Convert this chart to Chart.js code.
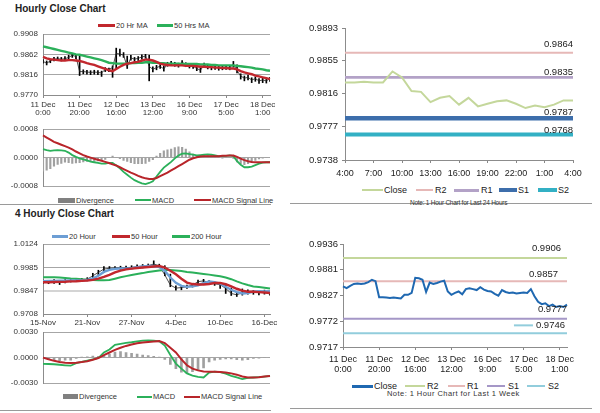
<!DOCTYPE html>
<html>
<head>
<meta charset="utf-8">
<title>Hourly Close Chart</title>
<script src="https://cdn.jsdelivr.net/npm/chart.js@4.4.1/dist/chart.umd.min.js"></script>
<style>
    body { margin: 0; width: 600px; height: 413px; position: relative; overflow: hidden; background: #fff;
           font-family: "Liberation Sans", Arial, sans-serif; color: #222; }
    canvas { position: absolute; }
    .ds-title { position: absolute; left: 15px; font-size: 10px; font-weight: bold; line-height: 12px; }
    .ds-sep { position: absolute; height: 1px; background: #9a9a9a; }
    .ds-key { position: absolute; }
    .ds-label { position: absolute; white-space: nowrap; color: #333; }
    .ds-small { font-size: 7.5px; line-height: 9px; }
    .ds-big { font-size: 9px; line-height: 11px; color: #222; }
</style>
</head>
<body>
<div class="ds-title" style="top:3px">Hourly Close Chart</div>
<div class="ds-title" style="top:208px">4 Hourly Close Chart</div>

<div class="ds-sep" style="left:0;top:204px;width:271px"></div>
<div class="ds-sep" style="left:290px;top:203px;width:302px"></div>
<div class="ds-sep" style="left:0;top:410px;width:271px"></div>
<div class="ds-sep" style="left:290px;top:408px;width:302px"></div>

<!-- hourly legend -->
<div class="ds-key" style="left:98px;top:23.5px;width:17px;height:3px;background:#c1272d"></div>
<div class="ds-label ds-small" style="left:116px;top:20.5px">20 Hr MA</div>
<div class="ds-key" style="left:157px;top:23.5px;width:16px;height:3px;background:#2bb05a"></div>
<div class="ds-label ds-small" style="left:174px;top:20.5px">50 Hrs MA</div>

<div class="ds-key" style="left:58px;top:197.5px;width:17px;height:5px;background:#808080"></div>
<div class="ds-label ds-small" style="left:76px;top:195.5px">Divergence</div>
<div class="ds-key" style="left:135px;top:199px;width:16px;height:2px;background:#2bb05a"></div>
<div class="ds-label ds-small" style="left:152px;top:195.5px">MACD</div>
<div class="ds-key" style="left:194px;top:199px;width:17px;height:2px;background:#b8252a"></div>
<div class="ds-label ds-small" style="left:212px;top:195.5px">MACD Signal Line</div>

<!-- 4 hourly legend -->
<div class="ds-key" style="left:52px;top:235px;width:16px;height:3px;background:#6d9ed4"></div>
<div class="ds-label ds-small" style="left:69px;top:232px">20 Hour</div>
<div class="ds-key" style="left:112px;top:235px;width:18px;height:3px;background:#c1272d"></div>
<div class="ds-label ds-small" style="left:131px;top:232px">50 Hour</div>
<div class="ds-key" style="left:172px;top:235px;width:18px;height:3px;background:#2bb05a"></div>
<div class="ds-label ds-small" style="left:191px;top:232px">200 Hour</div>

<div class="ds-key" style="left:63px;top:394px;width:15px;height:5px;background:#808080"></div>
<div class="ds-label ds-small" style="left:79px;top:392px">Divergence</div>
<div class="ds-key" style="left:137px;top:395.5px;width:15px;height:2px;background:#2bb05a"></div>
<div class="ds-label ds-small" style="left:153px;top:392px">MACD</div>
<div class="ds-key" style="left:184px;top:395.5px;width:16px;height:2px;background:#b8252a"></div>
<div class="ds-label ds-small" style="left:201px;top:392px">MACD Signal Line</div>

<!-- last 24 hours legend -->
<div class="ds-key" style="left:362px;top:189px;width:21px;height:2px;background:#c4d79b"></div>
<div class="ds-label ds-big" style="left:384px;top:184.5px">Close</div>
<div class="ds-key" style="left:416px;top:189px;width:17px;height:2px;background:#e6b8b7"></div>
<div class="ds-label ds-big" style="left:435px;top:184.5px">R2</div>
<div class="ds-key" style="left:454px;top:189px;width:25px;height:2.5px;background:#b3a2c7"></div>
<div class="ds-label ds-big" style="left:481px;top:184.5px">R1</div>
<div class="ds-key" style="left:499px;top:188px;width:18px;height:4px;background:#3d6eab"></div>
<div class="ds-label ds-big" style="left:518px;top:184.5px">S1</div>
<div class="ds-key" style="left:538px;top:188px;width:19px;height:4px;background:#33b0c4"></div>
<div class="ds-label ds-big" style="left:558px;top:184.5px">S2</div>
<div class="ds-label" style="left:410px;top:198.5px;font-size:6.5px;line-height:7px;letter-spacing:-0.25px">Note: 1 Hour Chart for Last 24 Hours</div>

<!-- last week legend -->
<div class="ds-key" style="left:352px;top:384.5px;width:21px;height:3px;background:#1f68b1"></div>
<div class="ds-label ds-big" style="left:374px;top:380.5px">Close</div>
<div class="ds-key" style="left:405px;top:385px;width:20px;height:2px;background:#c4d79b"></div>
<div class="ds-label ds-big" style="left:427px;top:380.5px">R2</div>
<div class="ds-key" style="left:448px;top:385px;width:17px;height:2px;background:#e6b8b7"></div>
<div class="ds-label ds-big" style="left:467px;top:380.5px">R1</div>
<div class="ds-key" style="left:487px;top:385px;width:18px;height:2px;background:#a597c7"></div>
<div class="ds-label ds-big" style="left:508px;top:380.5px">S1</div>
<div class="ds-key" style="left:527px;top:385px;width:18px;height:2px;background:#92cddc"></div>
<div class="ds-label ds-big" style="left:548px;top:380.5px">S2</div>
<div class="ds-label" style="left:387px;top:389px;font-size:7.5px;line-height:9px;letter-spacing:0.45px">Note: 1 Hour Chart for Last 1 Week</div>

<canvas id="hourly-price"></canvas>
<canvas id="hourly-macd"></canvas>
<canvas id="four-price"></canvas>
<canvas id="four-macd"></canvas>
<canvas id="day-levels"></canvas>
<canvas id="week-levels"></canvas>

<script>
// ---- Hourly chart for the last week (one value every 2 hours) ----
const weekTicks = [['11 Dec', '0:00'], ['11 Dec', '20:00'], ['12 Dec', '16:00'], ['13 Dec', '12:00'],
                   ['16 Dec', '9:00'], ['17 Dec', '5:00'], ['18 Dec', '1:00']];
const weekClose = [
    0.9846, 0.9842, 0.9847, 0.9851, 0.9852, 0.9851, 0.9852, 0.9855, 0.9860, 0.9857,
    0.9823, 0.9823, 0.9822, 0.9821, 0.9822, 0.9821, 0.9820, 0.9828, 0.9828, 0.9832,
    0.9864, 0.9863, 0.9860, 0.9834, 0.9854, 0.9851, 0.9853, 0.9856, 0.9858, 0.9835,
    0.9828, 0.9832, 0.9835, 0.9829, 0.9840, 0.9842, 0.9840, 0.9838, 0.9844, 0.9839,
    0.9836, 0.9835, 0.9830, 0.9826, 0.9838, 0.9834, 0.9832, 0.9833, 0.9831, 0.9832,
    0.9833, 0.9832, 0.9840, 0.9825, 0.9813, 0.9808, 0.9810, 0.9804, 0.9807, 0.9802,
    0.9804, 0.9802, 0.9807
];
const weekHigh = [
    0.9850, 0.9847, 0.9851, 0.9855, 0.9856, 0.9855, 0.9857, 0.9860, 0.9864, 0.9862,
    0.9858, 0.9827, 0.9826, 0.9825, 0.9826, 0.9825, 0.9824, 0.9832, 0.9831, 0.9836,
    0.9876, 0.9874, 0.9866, 0.9858, 0.9860, 0.9855, 0.9857, 0.9861, 0.9862, 0.9860,
    0.9834, 0.9837, 0.9839, 0.9836, 0.9844, 0.9846, 0.9844, 0.9842, 0.9848, 0.9843,
    0.9840, 0.9839, 0.9835, 0.9831, 0.9842, 0.9838, 0.9836, 0.9837, 0.9835, 0.9836,
    0.9837, 0.9836, 0.9846, 0.9838, 0.9818, 0.9813, 0.9815, 0.9809, 0.9811, 0.9807,
    0.9808, 0.9806, 0.9810
];
const weekLow = [
    0.9842, 0.9838, 0.9843, 0.9847, 0.9848, 0.9847, 0.9848, 0.9851, 0.9855, 0.9852,
    0.9814, 0.9818, 0.9817, 0.9816, 0.9817, 0.9816, 0.9812, 0.9823, 0.9823, 0.9810,
    0.9830, 0.9858, 0.9855, 0.9830, 0.9849, 0.9846, 0.9848, 0.9851, 0.9853, 0.9802,
    0.9822, 0.9827, 0.9830, 0.9824, 0.9835, 0.9838, 0.9835, 0.9833, 0.9839, 0.9834,
    0.9831, 0.9830, 0.9825, 0.9821, 0.9832, 0.9829, 0.9827, 0.9828, 0.9826, 0.9827,
    0.9828, 0.9827, 0.9833, 0.9820, 0.9806, 0.9802, 0.9804, 0.9798, 0.9801, 0.9796,
    0.9798, 0.9797, 0.9801
];
const weekMA20 = [
    0.9856, 0.9853, 0.9851, 0.9850, 0.9849, 0.9848, 0.9848, 0.9849, 0.9849, 0.9848,
    0.9847, 0.9845, 0.9842, 0.9840, 0.9838, 0.9835, 0.9832, 0.9829, 0.9826, 0.9824,
    0.9829, 0.9834, 0.9838, 0.9841, 0.9842, 0.9844, 0.9845, 0.9848, 0.9850, 0.9850,
    0.9848, 0.9845, 0.9841, 0.9839, 0.9838, 0.9837, 0.9837, 0.9837, 0.9837, 0.9836,
    0.9836, 0.9836, 0.9835, 0.9834, 0.9834, 0.9833, 0.9833, 0.9832, 0.9832, 0.9831,
    0.9831, 0.9830, 0.9830, 0.9828, 0.9824, 0.9821, 0.9819, 0.9817, 0.9814, 0.9812,
    0.9810, 0.9808, 0.9806
];
const weekMA50 = [
    0.9880, 0.9878, 0.9876, 0.9874, 0.9872, 0.9870, 0.9868, 0.9866, 0.9864, 0.9862,
    0.9861, 0.9859, 0.9857, 0.9855, 0.9853, 0.9851, 0.9849, 0.9846, 0.9843, 0.9842,
    0.9841, 0.9841, 0.9841, 0.9841, 0.9842, 0.9842, 0.9843, 0.9843, 0.9844, 0.9844,
    0.9843, 0.9843, 0.9842, 0.9842, 0.9841, 0.9841, 0.9841, 0.9841, 0.9840, 0.9840,
    0.9840, 0.9840, 0.9840, 0.9839, 0.9839, 0.9839, 0.9838, 0.9838, 0.9837, 0.9837,
    0.9837, 0.9837, 0.9837, 0.9836, 0.9835, 0.9834, 0.9833, 0.9832, 0.9830, 0.9829,
    0.9828, 0.9826, 0.9825
];
const weekMacd = [
    0.00024, 0.00021, 0.00019, 0.00020, 0.00021, 0.00020, 0.00019, 0.00014, 0.00007, 0.00002,
    -0.00002, -0.00005, -0.00008, -0.00011, -0.00013, -0.00015, -0.00017, -0.00017, -0.00015, -0.00015,
    -0.00022, -0.00030, -0.00040, -0.00048, -0.00056, -0.00063, -0.00068, -0.00072, -0.00074, -0.00071,
    -0.00066, -0.00053, -0.00040, -0.00028, -0.00020, -0.00012, -0.00002, 0.00006, 0.00011, 0.00012,
    0.00010, 0.00008, 0.00006, 0.00007, 0.00008, 0.00009, 0.00008, 0.00006, 0.00004, 0.00004,
    0.00005, 0.00006, 0.00004, -0.00010, -0.00020, -0.00027, -0.00027, -0.00025, -0.00021, -0.00017,
    -0.00014, -0.00013, -0.00013
];
const weekSignal = [
    0.00062, 0.00056, 0.00050, 0.00044, 0.00040, 0.00036, 0.00032, 0.00028, 0.00023, 0.00017,
    0.00012, 0.00007, 0.00003, 0.00000, -0.00003, -0.00006, -0.00009, -0.00012, -0.00015, -0.00019,
    -0.00022, -0.00027, -0.00032, -0.00037, -0.00042, -0.00046, -0.00051, -0.00055, -0.00058, -0.00060,
    -0.00060, -0.00057, -0.00052, -0.00047, -0.00042, -0.00036, -0.00030, -0.00024, -0.00018, -0.00012,
    -0.00006, -0.00002, 0.00001, 0.00003, 0.00004, 0.00004, 0.00004, 0.00004, 0.00004, 0.00005,
    0.00005, 0.00006, 0.00006, 0.00002, -0.00003, -0.00007, -0.00010, -0.00012, -0.00013, -0.00013,
    -0.00013, -0.00013, -0.00013
];
const weekDivergence = [
    -0.00038, -0.00035, -0.00031, -0.00024, -0.00019, -0.00016, -0.00013, -0.00014, -0.00016, -0.00015,
    -0.00014, -0.00012, -0.00011, -0.00011, -0.00010, -0.00009, -0.00008, -0.00005, 0.00000, 0.00004,
    0.00000, -0.00003, -0.00008, -0.00011, -0.00014, -0.00017, -0.00017, -0.00017, -0.00016, -0.00011,
    -0.00006, 0.00004, 0.00012, 0.00019, 0.00022, 0.00024, 0.00028, 0.00030, 0.00029, 0.00024,
    0.00016, 0.00010, 0.00005, 0.00004, 0.00004, 0.00005, 0.00004, 0.00002, 0.00000, -0.00001,
    0.00000, 0.00000, -0.00002, -0.00012, -0.00017, -0.00020, -0.00017, -0.00013, -0.00008, -0.00004,
    -0.00001, 0.00000, 0.00000
];
const weekPriceTicks = [0.9770, 0.9816, 0.9862, 0.9908];
const weekMacdTicks = [-0.0008, 0.0000, 0.0008];
const weekLevelTicks = [0.9717, 0.9772, 0.9827, 0.9881, 0.9936];
const weekLevels = { R2: 0.9906, R1: 0.9857, S1: 0.9777, S2: 0.9746 };

// ---- 4 hourly chart ----
const fourTicks = ['15-Nov', '21-Nov', '27-Nov', '4-Dec', '10-Dec', '16-Dec'];
const fourClose = [
    0.9900, 0.9898, 0.9901, 0.9895, 0.9903, 0.9908, 0.9910, 0.9912, 0.9915, 0.9935,
    0.9955, 0.9975, 0.9980, 0.9982, 0.9983, 0.9984, 0.9985, 0.9990, 0.9992, 0.9995,
    1.0005, 0.9995, 0.9940, 0.9880, 0.9862, 0.9865, 0.9870, 0.9880, 0.9900, 0.9905,
    0.9895, 0.9888, 0.9882, 0.9860, 0.9830, 0.9822, 0.9835, 0.9840, 0.9838, 0.9835,
    0.9840, 0.9832
];
const fourHigh = [
    0.9910, 0.9908, 0.9912, 0.9905, 0.9912, 0.9916, 0.9920, 0.9920, 0.9924, 0.9950,
    0.9968, 0.9990, 0.9990, 0.9990, 0.9992, 0.9993, 0.9995, 1.0000, 1.0002, 1.0005,
    1.0024, 1.0004, 0.9995, 0.9945, 0.9875, 0.9874, 0.9880, 0.9890, 0.9910, 0.9914,
    0.9906, 0.9898, 0.9892, 0.9885, 0.9862, 0.9835, 0.9857, 0.9852, 0.9848, 0.9846,
    0.9850, 0.9843
];
const fourLow = [
    0.9890, 0.9888, 0.9890, 0.9883, 0.9893, 0.9898, 0.9900, 0.9903, 0.9905, 0.9915,
    0.9935, 0.9955, 0.9970, 0.9972, 0.9973, 0.9975, 0.9976, 0.9980, 0.9982, 0.9985,
    0.9990, 0.9985, 0.9935, 0.9870, 0.9850, 0.9852, 0.9860, 0.9868, 0.9880, 0.9895,
    0.9885, 0.9878, 0.9860, 0.9830, 0.9818, 0.9812, 0.9820, 0.9826, 0.9825, 0.9822,
    0.9826, 0.9820
];
const fourMA20 = [
    0.9903, 0.9904, 0.9905, 0.9906, 0.9906, 0.9907, 0.9907, 0.9907, 0.9911, 0.9920,
    0.9935, 0.9958, 0.9970, 0.9976, 0.9978, 0.9979, 0.9980, 0.9986, 0.9990, 0.9994,
    0.9993, 0.9987, 0.9964, 0.9925, 0.9893, 0.9875, 0.9869, 0.9872, 0.9879, 0.9892,
    0.9901, 0.9897, 0.9888, 0.9870, 0.9852, 0.9838, 0.9830, 0.9833, 0.9841, 0.9843,
    0.9842, 0.9843
];
const fourMA50 = [
    0.9897, 0.9897, 0.9898, 0.9899, 0.9900, 0.9902, 0.9903, 0.9905, 0.9907, 0.9911,
    0.9918, 0.9928, 0.9940, 0.9955, 0.9966, 0.9973, 0.9978, 0.9981, 0.9984, 0.9987,
    0.9990, 0.9993, 0.9984, 0.9965, 0.9944, 0.9918, 0.9895, 0.9886, 0.9883, 0.9883,
    0.9886, 0.9892, 0.9893, 0.9885, 0.9872, 0.9858, 0.9847, 0.9840, 0.9840, 0.9838,
    0.9836, 0.9833
];
const fourMA200 = [
    0.9927, 0.9927, 0.9926, 0.9925, 0.9922, 0.9919, 0.9917, 0.9915, 0.9912, 0.9910,
    0.9909, 0.9909, 0.9910, 0.9918, 0.9926, 0.9933, 0.9940, 0.9946, 0.9951, 0.9957,
    0.9962, 0.9967, 0.9970, 0.9970, 0.9967, 0.9963, 0.9958, 0.9954, 0.9950, 0.9946,
    0.9942, 0.9937, 0.9932, 0.9925, 0.9915, 0.9902, 0.9890, 0.9880, 0.9872, 0.9868,
    0.9864, 0.9859
];
const fourMacd = [
    -0.00073, -0.00075, -0.00078, -0.00084, -0.00090, -0.00095, -0.00065, -0.00050, -0.00035, -0.00020,
    -0.00005, 0.00060, 0.00095, 0.00150, 0.00162, 0.00172, 0.00180, 0.00190, 0.00198, 0.00203,
    0.00200, 0.00190, 0.00140, 0.00030, -0.00070, -0.00130, -0.00185, -0.00210, -0.00225, -0.00233,
    -0.00175, -0.00165, -0.00170, -0.00188, -0.00215, -0.00233, -0.00252, -0.00238, -0.00233, -0.00228,
    -0.00222, -0.00215
];
const fourSignal = [
    0.00000, -0.00020, -0.00038, -0.00052, -0.00060, -0.00062, -0.00060, -0.00052, -0.00042, -0.00025,
    -0.00005, 0.00030, 0.00060, 0.00090, 0.00115, 0.00137, 0.00153, 0.00168, 0.00177, 0.00184,
    0.00190, 0.00193, 0.00170, 0.00115, 0.00060, -0.00020, -0.00090, -0.00130, -0.00150, -0.00164,
    -0.00165, -0.00165, -0.00168, -0.00175, -0.00185, -0.00200, -0.00222, -0.00233, -0.00233, -0.00230,
    -0.00222, -0.00215
];
const fourDivergence = [
    -0.00010, -0.00020, -0.00030, -0.00035, -0.00030, -0.00030, -0.00010, 0.00005, 0.00010, 0.00018,
    0.00015, 0.00020, 0.00040, 0.00065, 0.00070, 0.00060, 0.00050, 0.00040, 0.00030, 0.00025,
    0.00015, 0.00005, -0.00020, -0.00080, -0.00130, -0.00170, -0.00185, -0.00165, -0.00140, -0.00120,
    -0.00050, -0.00030, -0.00020, -0.00015, -0.00015, -0.00025, -0.00030, -0.00025, -0.00010, -0.00005,
    0.00000, 0.00000
];
const fourPriceTicks = [0.9708, 0.9847, 0.9985, 1.0124];
const fourMacdTicks = [-0.0030, 0.0000, 0.0030];

// ---- Hourly chart for the last 24 hours ----
const dayTicks = ['4:00', '7:00', '10:00', '13:00', '16:00', '19:00', '22:00', '1:00', '4:00'];
const dayClose = [
    0.9829, 0.9829, 0.9830, 0.9829, 0.9829, 0.9842, 0.9835, 0.9819, 0.9818, 0.9806,
    0.9811, 0.9813, 0.9803, 0.9811, 0.9801, 0.9804, 0.9807, 0.9808, 0.9804, 0.9799,
    0.9802, 0.9800, 0.9803, 0.9808, 0.9808
];
const dayLevelTicks = [0.9738, 0.9777, 0.9816, 0.9855, 0.9893];
const dayLevels = { R2: 0.9864, R1: 0.9835, S1: 0.9787, S2: 0.9768 };

Chart.defaults.font.family = '"Liberation Sans", Arial, sans-serif';
Chart.defaults.plugins.legend.display = false;
Chart.defaults.plugins.tooltip.enabled = false;

// only every step-th category carries a tick label
function spreadLabels(count, step, ticks) {
    return Array.from({ length: count }, (_, i) => (i % step === 0 && ticks[i / step]) ? ticks[i / step] : '');
}

function valueAxis(ticks, o) {
    return {
        type: 'linear',
        min: ticks[0],
        max: ticks[ticks.length - 1],
        afterBuildTicks: scale => { scale.ticks = ticks.map(v => ({ value: v })); },
        afterFit: scale => { scale.width = o.width; },
        ticks: { color: o.inside ? '#333' : '#222', font: { size: o.font }, padding: o.pad, callback: v => v.toFixed(4) },
        grid: o.inside
            ? { color: o.gridColor || '#a6a6a6', lineWidth: o.gridWidth || 1, drawTicks: false }
            : { drawOnChartArea: false, drawTicks: true, tickLength: 3, color: '#888' },
        border: { color: '#8c8c8c' }
    };
}

function categoryAxis(o) {
    return {
        type: 'category',
        display: o.display !== false,
        offset: false,
        afterFit: scale => { scale.height = o.height; },
        ticks: { autoSkip: false, maxRotation: 0, minRotation: 0, color: o.color || '#333',
                 font: { size: o.font, lineHeight: 1.1 }, padding: o.pad },
        grid: { offset: false, drawOnChartArea: false, drawTicks: true, tickLength: 3,
                color: c => (c.index % o.step === 0 ? '#888' : 'rgba(0,0,0,0)') },
        border: { color: '#8c8c8c' }
    };
}

function makeChart(id, box, config) {
    const canvas = document.getElementById(id);
    canvas.width = box.w;
    canvas.height = box.h;
    canvas.style.left = box.x + 'px';
    canvas.style.top = box.y + 'px';
    canvas.style.width = box.w + 'px';
    canvas.style.height = box.h + 'px';
    config.options = Object.assign({
        responsive: false,
        animation: false,
        layout: { padding: box.pad }
    }, config.options);
    return new Chart(canvas.getContext('2d'), config);
}

function lineSet(data, color, width, order) {
    return { type: 'line', data: data, borderColor: color, borderWidth: width, pointRadius: 0, tension: 0, order: order };
}

// value labels over the support / resistance lines
const levelLabels = {
    id: 'levelLabels',
    afterDatasetsDraw(chart, args, opts) {
        const ctx = chart.ctx;
        const area = chart.chartArea;
        const y = chart.scales.y;
        ctx.save();
        ctx.font = opts.font;
        ctx.fillStyle = '#222';
        ctx.textAlign = 'right';
        ctx.textBaseline = 'middle';
        opts.items.forEach(it => {
            const px = area.right - (it.inset || 0);
            const py = y.getPixelForValue(it.value) - it.lift;
            const text = it.value.toFixed(4);
            ctx.fillText(text, px, py);
            if (it.keyColor) {
                const left = px - ctx.measureText(text).width - 3;
                ctx.strokeStyle = it.keyColor;
                ctx.lineWidth = 2;
                ctx.beginPath();
                ctx.moveTo(left - 19, py);
                ctx.lineTo(left, py);
                ctx.stroke();
            }
        });
        ctx.restore();
    }
};

// Hourly close with moving averages
makeChart('hourly-price', { x: 0, y: 24, w: 295, h: 101, pad: { top: 10, right: 25, bottom: 0, left: 0 } }, {
    type: 'line',
    data: {
        labels: spreadLabels(weekClose.length, 10, weekTicks),
        datasets: [
            lineSet(weekMA20, '#c1272d', 2.4, 0),
            lineSet(weekMA50, '#2bb05a', 2.4, 1),
            lineSet(weekClose, '#222', 0.8, 2),
            { type: 'bar', data: weekLow.map((l, i) => [l, weekHigh[i]]), backgroundColor: '#000', barThickness: 1, order: 3 }
        ]
    },
    options: {
        scales: {
            x: categoryAxis({ height: 30, font: 8, pad: 2, step: 10 }),
            y: valueAxis(weekPriceTicks, { width: 43, font: 8, pad: 5, inside: true })
        }
    }
});

// Hourly MACD
makeChart('hourly-macd', { x: 0, y: 119, w: 295, h: 77, pad: { top: 10, right: 25, bottom: 6, left: 0 } }, {
    type: 'line',
    data: {
        labels: spreadLabels(weekMacd.length, 10, weekTicks),
        datasets: [
            lineSet(weekSignal, '#b8252a', 2, 0),
            lineSet(weekMacd, '#2bb05a', 1.8, 1),
            { type: 'bar', data: weekDivergence, backgroundColor: '#a0a0a0', barThickness: 1.5, order: 2 }
        ]
    },
    options: {
        scales: {
            x: categoryAxis({ display: false, height: 0, font: 8, pad: 2, step: 10 }),
            y: valueAxis(weekMacdTicks, { width: 43, font: 8, pad: 5, inside: true })
        }
    }
});

// 4 hourly close with moving averages
makeChart('four-price', { x: 0, y: 234, w: 295, h: 96, pad: { top: 10, right: 25, bottom: 0, left: 0 } }, {
    type: 'line',
    data: {
        labels: spreadLabels(fourClose.length, 8, fourTicks),
        datasets: [
            lineSet(fourMA20, '#6d9ed4', 2.4, 1),
            lineSet(fourMA50, '#c1272d', 2.4, 0),
            lineSet(fourMA200, '#2bb05a', 2, 2),
            lineSet(fourClose, '#222', 0.8, 3),
            { type: 'bar', data: fourLow.map((l, i) => [l, fourHigh[i]]), backgroundColor: '#000', barThickness: 1, order: 4 }
        ]
    },
    options: {
        scales: {
            x: categoryAxis({ height: 16, font: 8, pad: 1, step: 8 }),
            y: valueAxis(fourPriceTicks, {
                width: 43, font: 8, pad: 5, inside: true,
                gridColor: c => (c.tick && c.tick.value === 0.9847 ? '#d4d4d4' : '#a6a6a6'),
                gridWidth: c => (c.tick && c.tick.value === 0.9847 ? 2 : 1)
            })
        }
    }
});

// 4 hourly MACD
makeChart('four-macd', { x: 0, y: 322, w: 295, h: 71, pad: { top: 10, right: 25, bottom: 6, left: 0 } }, {
    type: 'line',
    data: {
        labels: spreadLabels(fourMacd.length, 8, fourTicks),
        datasets: [
            lineSet(fourSignal, '#b8252a', 2, 0),
            lineSet(fourMacd, '#2bb05a', 1.8, 1),
            { type: 'bar', data: fourDivergence, backgroundColor: '#a0a0a0', barThickness: 2, order: 2 }
        ]
    },
    options: {
        scales: {
            x: categoryAxis({ display: false, height: 0, font: 8, pad: 2, step: 8 }),
            y: valueAxis(fourMacdTicks, { width: 43, font: 8, pad: 5, inside: true })
        }
    }
});

// Last 24 hours with support / resistance
makeChart('day-levels', { x: 300, y: 18, w: 298, h: 162, pad: { top: 10, right: 25, bottom: 0, left: 0 } }, {
    type: 'line',
    data: {
        labels: spreadLabels(dayClose.length, 3, dayTicks),
        datasets: [
            lineSet(dayClose, '#c4d79b', 2, 0),
            lineSet(dayClose.map(() => dayLevels.R2), '#e6b8b7', 2, 1),
            lineSet(dayClose.map(() => dayLevels.R1), '#b3a2c7', 2.6, 2),
            lineSet(dayClose.map(() => dayLevels.S1), '#3d6eab', 4.5, 3),
            lineSet(dayClose.map(() => dayLevels.S2), '#33b0c4', 4, 4)
        ]
    },
    options: {
        scales: {
            x: categoryAxis({ height: 20, font: 9, pad: 6, step: 3, color: '#222' }),
            y: valueAxis(dayLevelTicks, { width: 45, font: 9.5, pad: 4, inside: false })
        },
        plugins: {
            levelLabels: {
                font: '9.5px "Liberation Sans", Arial, sans-serif',
                items: [
                    { value: dayLevels.R2, lift: 8.5 },
                    { value: dayLevels.R1, lift: 5.5 },
                    { value: dayLevels.S1, lift: 6 },
                    { value: dayLevels.S2, lift: 4.5 }
                ]
            }
        }
    },
    plugins: [levelLabels]
});

// Last week with support / resistance
makeChart('week-levels', { x: 298, y: 234, w: 297, h: 143, pad: { top: 10, right: 28, bottom: 0, left: 0 } }, {
    type: 'line',
    data: {
        labels: spreadLabels(weekClose.length, 10, weekTicks),
        datasets: [
            lineSet(weekClose, '#1f68b1', 2, 0),
            lineSet(weekClose.map(() => weekLevels.R2), '#c4d79b', 2, 1),
            lineSet(weekClose.map(() => weekLevels.R1), '#e6b8b7', 2, 2),
            lineSet(weekClose.map(() => weekLevels.S1), '#a597c7', 2, 3),
            lineSet(weekClose.map(() => weekLevels.S2), '#92cddc', 2, 4)
        ]
    },
    options: {
        scales: {
            x: categoryAxis({ height: 30, font: 9, pad: 5, step: 10, color: '#222' }),
            y: valueAxis(weekLevelTicks, { width: 45, font: 9.5, pad: 2, inside: false })
        },
        plugins: {
            levelLabels: {
                font: '9.5px "Liberation Sans", Arial, sans-serif',
                items: [
                    { value: weekLevels.R2, lift: 10, inset: 6 },
                    { value: weekLevels.R1, lift: 6.5, inset: 9 },
                    { value: weekLevels.S1, lift: 9, inset: 0 },
                    { value: weekLevels.S2, lift: 8, inset: 2, keyColor: '#92cddc' }
                ]
            }
        }
    },
    plugins: [levelLabels]
});
</script>
</body>
</html>
